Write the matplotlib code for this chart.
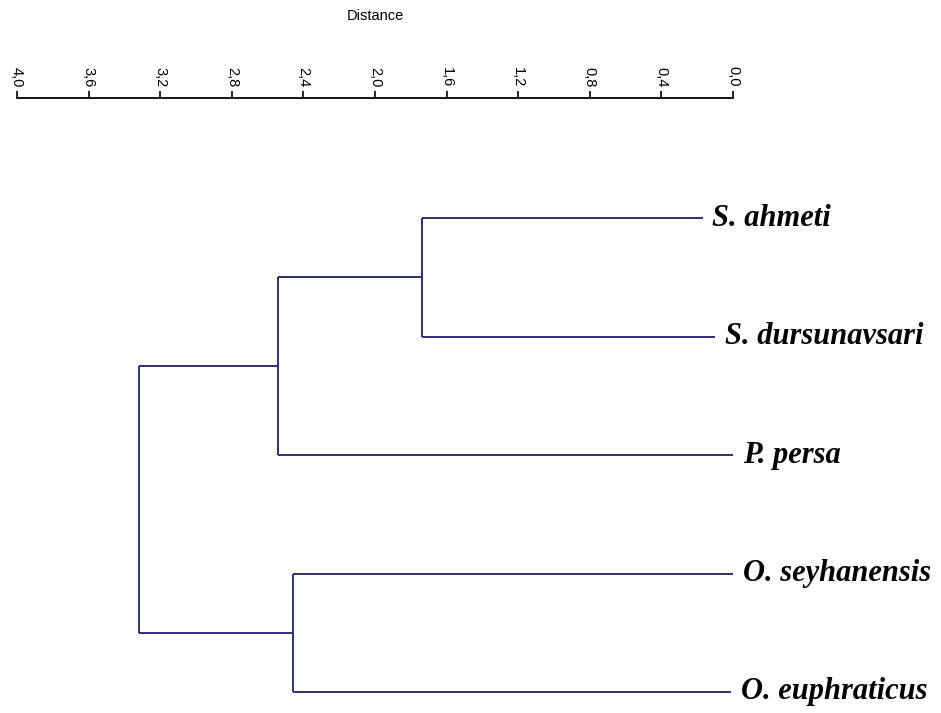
import numpy as np
import matplotlib.pyplot as plt

# leaves, top to bottom
leaves = ['S. ahmeti', 'S. dursunavsari', 'P. persa', 'O. seyhanensis', 'O. euphraticus']
leaf_end = [0.17, 0.10, 0.0, 0.0, 0.01]   # where the leaf branch stops (distance)

# merges: (child a, child b, distance) -- new nodes numbered 5,6,7,8
merge_a = [0, 5, 3, 6]
merge_b = [1, 2, 4, 7]
merge_h = [1.74, 2.54, 2.46, 3.32]

ticks = [4.0, 3.6, 3.2, 2.8, 2.4, 2.0, 1.6, 1.2, 0.8, 0.4, 0.0]
tick_labels = ['4,0', '3,6', '3,2', '2,8', '2,4', '2,0', '1,6', '1,2', '0,8', '0,4', '0,0']

col = '#2f2f7a'

fig = plt.figure(figsize=(9.41, 7.13), dpi=100)
ax = fig.add_axes([17/941, 0, 716/941, (713-98)/713])

xs = list(leaf_end)
ys = [i + 1 for i in range(len(leaves))]
for a, b, h in zip(merge_a, merge_b, merge_h):
    ax.plot([h, h], [ys[a], ys[b]], color=col, lw=1.4, solid_capstyle='butt')
    ax.plot([xs[a], h], [ys[a], ys[a]], color=col, lw=1.4, solid_capstyle='butt')
    ax.plot([xs[b], h], [ys[b], ys[b]], color=col, lw=1.4, solid_capstyle='butt')
    xs.append(h)
    ys.append((ys[a] + ys[b]) / 2)

for i, name in enumerate(leaves):
    ax.annotate(name, (leaf_end[i], i + 1), xytext=(7, 0), textcoords='offset points',
                va='center', ha='left', family='Liberation Serif', style='italic',
                weight='bold', fontsize=22, annotation_clip=False)

px = 118.5
ax.set_ylim(5 + (713 - 692) / px, 1 - (218 - 98) / px)
ax.set_xlim(4.0, 0.0)

for s in ['left', 'right', 'bottom']:
    ax.spines[s].set_visible(False)
ax.spines['top'].set_linewidth(1.3)
ax.xaxis.tick_top()
ax.set_xticks(ticks)
ax.set_xticklabels(tick_labels, rotation=270, family='Liberation Sans', fontsize=10.5)
ax.tick_params(axis='x', direction='out', length=5, width=1.2, pad=3)
ax.set_yticks([])

fig.text(375/941, 1 - 16/713, 'Distance', ha='center', va='center',
         family='Liberation Sans', fontsize=10.5)

fig.savefig('out.png', dpi=100)
